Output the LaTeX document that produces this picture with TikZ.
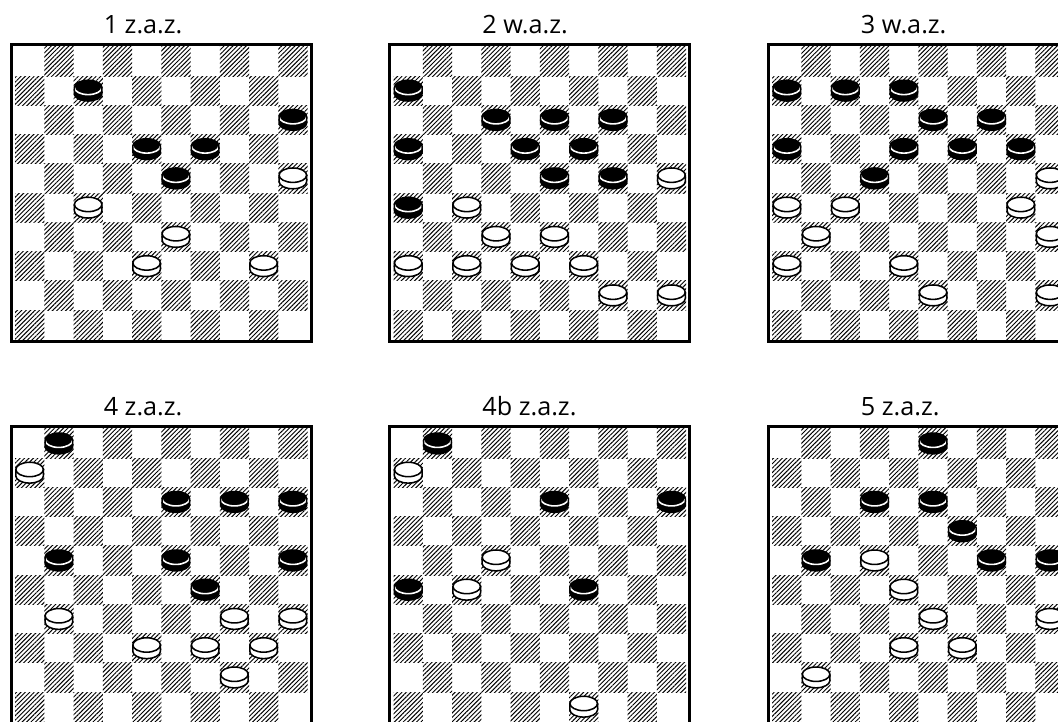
\documentclass[tikz,border=0pt]{standalone}
\usepackage{fontspec}
\setmainfont{Open Sans}
\usetikzlibrary{patterns.meta}
\tikzset{
  hatch/.style={pattern={Lines[angle=45,distance=2.35pt,line width=0.72pt]}},
  frame/.style={draw=black,line width=2.25pt},
  lbl/.style={anchor=base west,inner sep=0pt,font=\fontsize{18.9}{22}\selectfont},
  bpfill/.style={fill=black},
  bpline/.style={draw=white,line width=1.2pt},
  wpbody/.style={fill=white,draw=black,line width=1.15pt},
  pcout/.style={draw=black,line width=1.15pt},
}
\newcommand\pcshape{(-13.8,3.2) arc[start angle=180,end angle=0,x radius=13.8,y radius=7.2] -- (13.8,-3.2) arc[start angle=0,end angle=-180,x radius=13.8,y radius=7.2] -- cycle}
\newcommand\pcarc{(-13.8,3.2) arc[start angle=180,end angle=360,x radius=13.8,y radius=7.2]}
\newcommand\bpc[2]{%
  \begin{scope}[shift={({(#1-0.5)*29.25},{-(#2-0.5)*29.25})}]
    \path[bpfill] \pcshape;
    \path[bpline] \pcarc;
    \path[pcout] \pcshape;
  \end{scope}}
\newcommand\wpc[2]{%
  \begin{scope}[shift={({(#1-0.5)*29.25},{-(#2-0.5)*29.25})}]
    \path[wpbody] \pcshape;
    \path[pcout] \pcarc;
  \end{scope}}
\newcommand\drawboard[3]{%
  \foreach \r in {1,...,10}{
    \foreach \c in {1,...,10}{
      \pgfmathtruncatemacro\odd{mod(\r+\c,2)}
      \ifnum\odd=1
        \path[hatch] ({(\c-1)*29.25},{-(\r-1)*29.25}) rectangle ++(29.25,-29.25);
      \fi
    }
  }
  \draw[frame] (-4,2.5) rectangle (296.2,-295.1);
  \node[lbl] (#1) at (88.5,13.3) {#2};
}
\begin{document}
\begin{tikzpicture}[x=0.75pt,y=0.75pt]
\useasboundingbox (0,0) rectangle (1058,-722);
\clip (0,0) rectangle (1058,-722);
\fill[white] (0,0) rectangle (1058,-722);

% Board 1
\begin{scope}[shift={(15,-46.75)}]
  \drawboard{l1}{1 z.a.z.}{}
  \foreach \c/\r in {3/2,10/3,5/4,7/4,6/5}{\bpc{\c}{\r}}
  \foreach \c/\r in {10/5,3/6,6/7,5/8,9/8}{\wpc{\c}{\r}}
\end{scope}

% Board 2
\begin{scope}[shift={(393.6,-46.75)}]
  \drawboard{l2}{2 w.a.z.}{}
  \foreach \c/\r in {1/2,4/3,6/3,8/3,1/4,5/4,7/4,6/5,8/5,1/6}{\bpc{\c}{\r}}
  \foreach \c/\r in {10/5,3/6,4/7,6/7,1/8,3/8,5/8,7/8,8/9,10/9}{\wpc{\c}{\r}}
\end{scope}

% Board 3
\begin{scope}[shift={(772.2,-46.75)}]
  \drawboard{l3}{3 w.a.z.}{}
  \foreach \c/\r in {1/2,3/2,5/2,6/3,8/3,1/4,5/4,7/4,9/4,4/5}{\bpc{\c}{\r}}
  \foreach \c/\r in {10/5,1/6,3/6,9/6,2/7,10/7,1/8,5/8,6/9,10/9}{\wpc{\c}{\r}}
\end{scope}

% Board 4
\begin{scope}[shift={(15,-428.8)}]
  \drawboard{l4}{4 z.a.z.}{}
  \foreach \c/\r in {2/1,6/3,8/3,10/3,2/5,6/5,10/5,7/6}{\bpc{\c}{\r}}
  \foreach \c/\r in {1/2,2/7,8/7,10/7,5/8,7/8,9/8,8/9}{\wpc{\c}{\r}}
\end{scope}

% Board 5
\begin{scope}[shift={(393.6,-428.8)}]
  \drawboard{l5}{4b z.a.z.}{}
  \foreach \c/\r in {2/1,6/3,10/3,1/6,7/6}{\bpc{\c}{\r}}
  \foreach \c/\r in {1/2,4/5,3/6,7/10}{\wpc{\c}{\r}}
\end{scope}

% Board 6
\begin{scope}[shift={(772.2,-428.8)}]
  \drawboard{l6}{5 z.a.z.}{}
  \foreach \c/\r in {6/1,4/3,6/3,7/4,2/5,8/5,10/5}{\bpc{\c}{\r}}
  \foreach \c/\r in {4/5,5/6,6/7,10/7,5/8,7/8,2/9}{\wpc{\c}{\r}}
\end{scope}
\end{tikzpicture}
\end{document}
